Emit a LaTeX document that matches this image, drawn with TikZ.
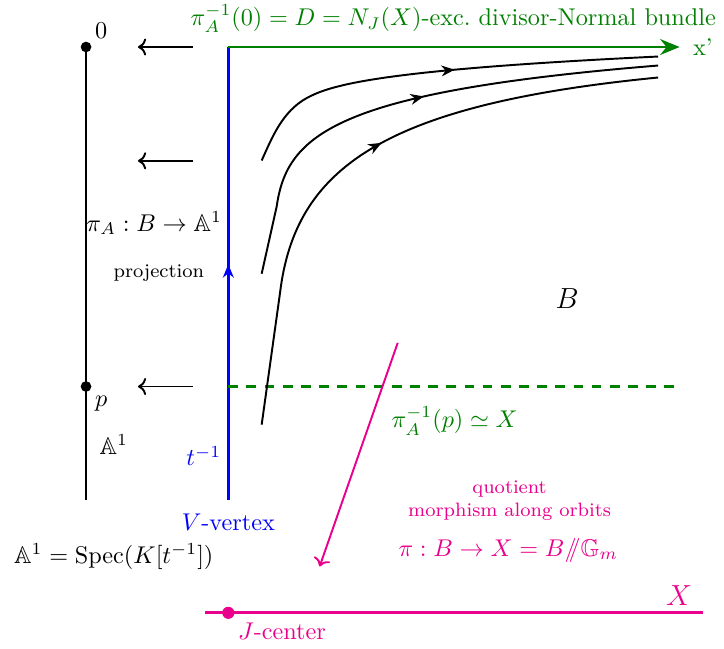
\documentclass[tikz,border=0pt]{standalone}
\usepackage{amsmath,amssymb}
\usetikzlibrary{arrows.meta,decorations.markings}
\definecolor{divgreen}{RGB}{0,128,0}
\definecolor{orbitpink}{RGB}{233,0,140}

\begin{document}
\begin{tikzpicture}[scale=0.96,every node/.style={inner sep=1pt},
  midarrow/.style={postaction={decorate},decoration={markings,mark=at position #1 with {\arrow{Stealth[length=5.5pt,width=4.5pt]}}}},
  flowline/.style={thick,midarrow=0.53},
  ptdot/.style={circle,fill=#1,inner sep=0pt,minimum size=4.4pt}]
\useasboundingbox (-1.30,-2.25) rectangle (9.64,7.55);
% Base line A^1 with the points 0 and p
\node[ptdot=black] (zero) at (0,6.84) {};
\node[ptdot=black] (p) at (0,1.71) {};
\coordinate (Abot) at (0,0);
\draw[very thick] (Abot) -- (zero.center);
\node (zerolab) at (0.23,7.08) {$0$};
\node (plab) at (0.23,1.45) {$p$};
\node (Alab) at (0.42,0.83) {$\mathbb{A}^1$};
\node (speclab) at (0.42,-0.86) {$\mathbb{A}^1=\operatorname{Spec}(K[t^{-1}])$};
\node (pilab) at (1.03,4.18) {$\pi_A:B\to\mathbb{A}^1$};
\node[font=\footnotesize] (projlab) at (1.10,3.43) {projection};
% Projection arrows
\foreach \y/\n in {6.84/a,5.12/b,1.71/c} {
  \coordinate (\n1) at (1.62,\y);
  \coordinate (\n2) at (0.785,\y);
  \draw[thick,->] (\n1) -- (\n2);
}
% Vertex line (blue)
\coordinate (V) at (2.15,0);
\coordinate (Vtop) at (2.15,6.84);
\draw[very thick,blue,midarrow=0.52] (V) -- (Vtop);
\node[blue] (tlab) at (1.78,0.66) {$t^{-1}$};
\node[blue] (Vlab) at (2.15,-0.35) {$V$-vertex};
% Exceptional divisor (green)
\coordinate (xend) at (8.97,6.84);
\draw[very thick,divgreen,-{Stealth[length=8pt,width=6.5pt]}] (Vtop) -- (xend);
\node[divgreen] (xlab) at (9.32,6.84) {x'};
\node[divgreen] (divlab) at (5.55,7.27) {$\pi_A^{-1}(0)=D=N_J(X)$-exc.\ divisor-Normal bundle};
% Fibre over p (dashed)
\coordinate (Vp) at (2.15,1.71);
\coordinate (pend) at (9.0,1.71);
\draw[very thick,divgreen,dash pattern=on 4pt off 3.5pt] (Vp) -- (pend);
\node[divgreen] (fiblab) at (5.57,1.19) {$\pi_A^{-1}(p)\simeq X$};
% Orbits
\draw[flowline] (2.654,5.125) .. controls (2.810,5.468) and (2.961,5.861) .. (3.334,6.068) .. controls (3.701,6.269) and (4.441,6.495) .. (8.645,6.696);
\draw[flowline] (2.654,3.414) -- (2.881,4.431) .. controls (3.036,5.514) and (3.761,6.163) .. (8.645,6.560);
\draw[flowline] (2.654,1.133) -- (2.931,3.122) .. controls (3.157,4.985) and (4.441,5.967) .. (8.645,6.379);
\node[font=\large] (Blab) at (7.27,3.04) {$B$};
% Quotient map
\coordinate (qs) at (4.71,2.37);
\coordinate (qe) at (3.53,-1.01);
\draw[thick,orbitpink,->] (qs) -- (qe);
\node[orbitpink,font=\footnotesize,align=center] (qlab) at (6.40,-0.01) {quotient\\morphism along orbits};
\node[orbitpink] (quotlab) at (6.38,-0.76) {$\pi:B\to X=B/\!\!/\mathbb{G}_m$};
% X with the J-center
\coordinate (Xl) at (1.80,-1.71);
\coordinate (Xr) at (9.32,-1.71);
\draw[very thick,orbitpink] (Xl) -- (Xr);
\node[ptdot=orbitpink,minimum size=5pt] (J) at (2.15,-1.71) {};
\node[orbitpink] (Jlab) at (2.96,-1.99) {$J$-center};
\node[orbitpink,font=\large] (Xlab) at (8.96,-1.45) {$X$};
\end{tikzpicture}
\end{document}
